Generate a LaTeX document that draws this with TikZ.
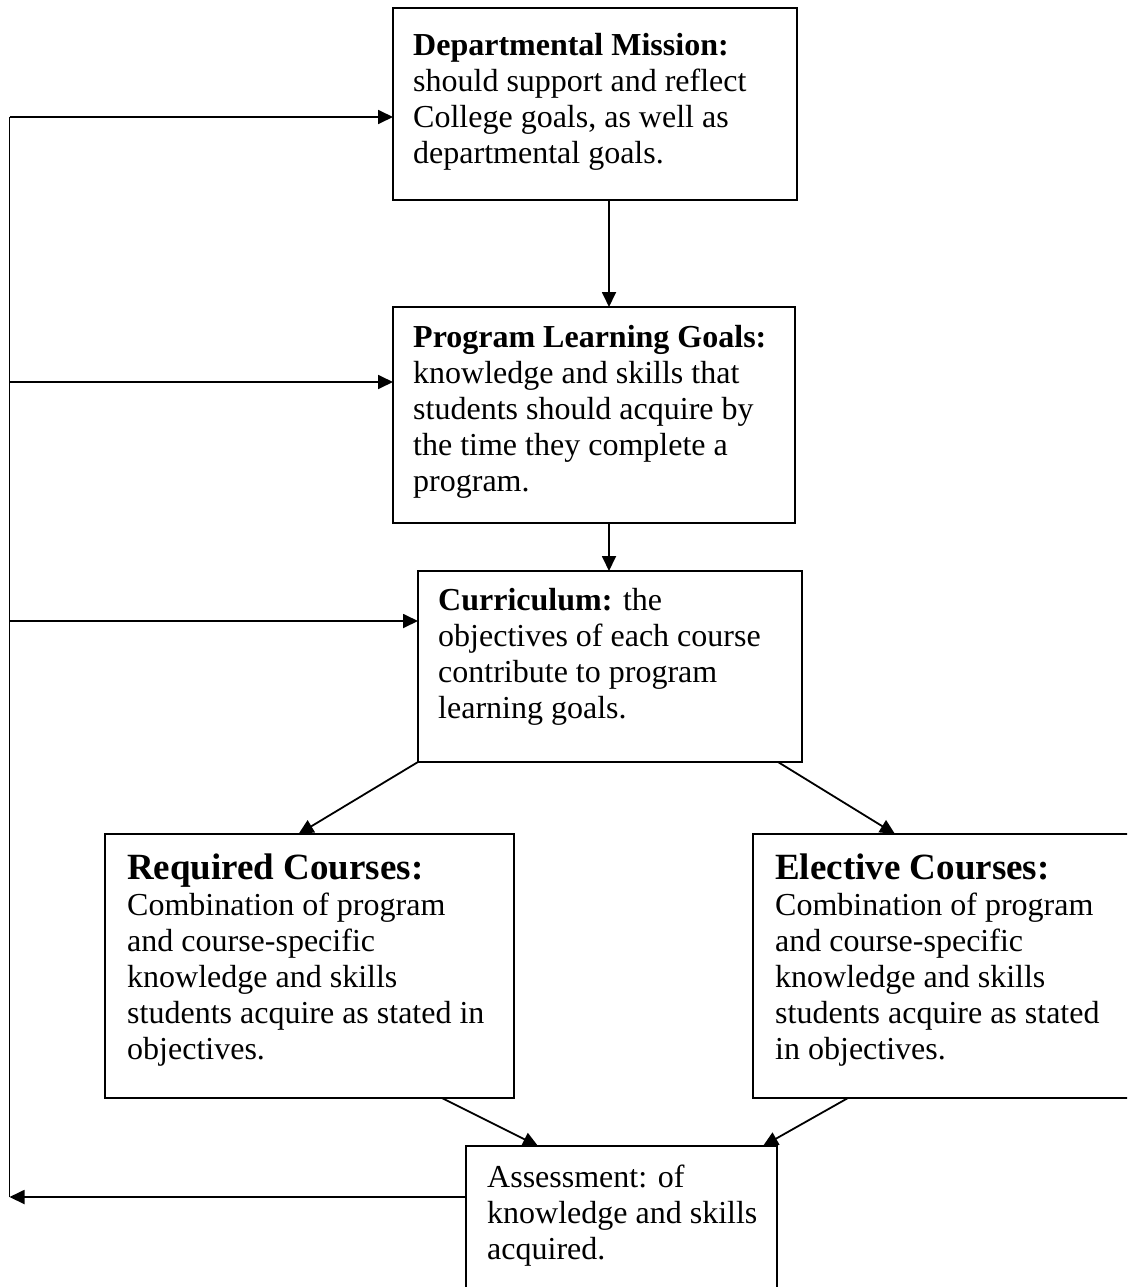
\documentclass[tikz,border=0pt]{standalone}
\usepackage{fontspec}
\setmainfont{Liberation Serif}
\usetikzlibrary{arrows.meta}

\begin{document}
\begin{tikzpicture}[x=1pt, y=-1pt,
    >={Triangle[length=15pt,width=14pt]},
    box/.style={draw, line width=1.8pt, outer sep=0pt, inner sep=0pt, anchor=north west},
    txt/.style={anchor=north west, align=left, inner sep=0pt,
                font=\fontsize{32}{36}\selectfont},
    arrow/.style={->, line width=1.8pt},
    link/.style={line width=1.8pt},
  ]
  \useasboundingbox (0,0) rectangle (1127,1287);
  \clip (0,0) rectangle (1127,1287);

  % Mission
  \node[box, minimum width=404pt, minimum height=192pt] (mission) at (393,8) {};
  \node[txt] (missiontxt) at ([shift={(20,25)}]mission.north west)
    {\textbf{Departmental Mission:}\\should support and reflect\\College goals, as well as\\departmental goals.};

  % Program goals
  \node[box, minimum width=402pt, minimum height=216pt] (goals) at (393,307) {};
  \node[txt] (goalstxt) at ([shift={(20,18)}]goals.north west)
    {\textbf{Program Learning Goals:}\\knowledge and skills that\\students should acquire by\\the time they complete a\\program.};

  % Curriculum
  \node[box, minimum width=384pt, minimum height=191pt] (curr) at (418,571) {};
  \node[txt] (currtxt) at ([shift={(20,17)}]curr.north west)
    {\textbf{Curriculum:} the\\objectives of each course\\contribute to program\\learning goals.};

  % Courses
  \node[box, minimum width=409pt, minimum height=264pt] (req) at (105,834) {};
  \node[txt] (reqtxt) at ([shift={(22,20)}]req.north west)
    {{\fontsize{37}{38}\selectfont\bfseries Required Courses:}\\Combination of program\\and course-specific\\knowledge and skills\\students acquire as stated in\\objectives.};
  \node[box, minimum width=392pt, minimum height=264pt] (elect) at (753,834) {};
  \node[txt] (electtxt) at ([shift={(22,20)}]elect.north west)
    {{\fontsize{37}{38}\selectfont\bfseries Elective Courses:}\\Combination of program\\and course-specific\\knowledge and skills\\students acquire as stated\\in objectives.};

  % Assessment
  \node[box, minimum width=311pt, minimum height=160pt] (assess) at (466,1146) {};
  \node[txt] (assesstxt) at ([shift={(21,19)}]assess.north west)
    {Assessment: of\\knowledge and skills\\acquired.};

  % Feedback line
  \coordinate (busM) at (9.5,117);
  \coordinate (busG) at (9.5,382);
  \coordinate (busC) at (9.5,621);
  \coordinate (busA) at (9.5,1197);
  \coordinate (spine) at (609,0);

  \draw[link] (busA) -- (busM);
  \draw[arrow] (busM) -- (busM -| mission.west);
  \draw[arrow] (busG) -- (busG -| goals.west);
  \draw[arrow] (busC) -- (busC -| curr.west);
  \draw[arrow] (busA -| assess.west) -- (busA);

  % Down the middle
  \draw[arrow] (spine |- mission.south) -- (spine |- goals.north);
  \draw[arrow] (spine |- goals.south) -- (spine |- curr.north);
  \draw[arrow] (curr.south west) -- ([xshift=-11pt]req.north);
  \draw[arrow] ([xshift=-24pt]curr.south east) -- ([xshift=142pt]elect.north west);
  \draw[arrow] ([xshift=-72pt]req.south east) -- ([xshift=72pt]assess.north west);
  \draw[arrow] ([xshift=95pt]elect.south west) -- ([xshift=-14pt]assess.north east);
\end{tikzpicture}
\end{document}
